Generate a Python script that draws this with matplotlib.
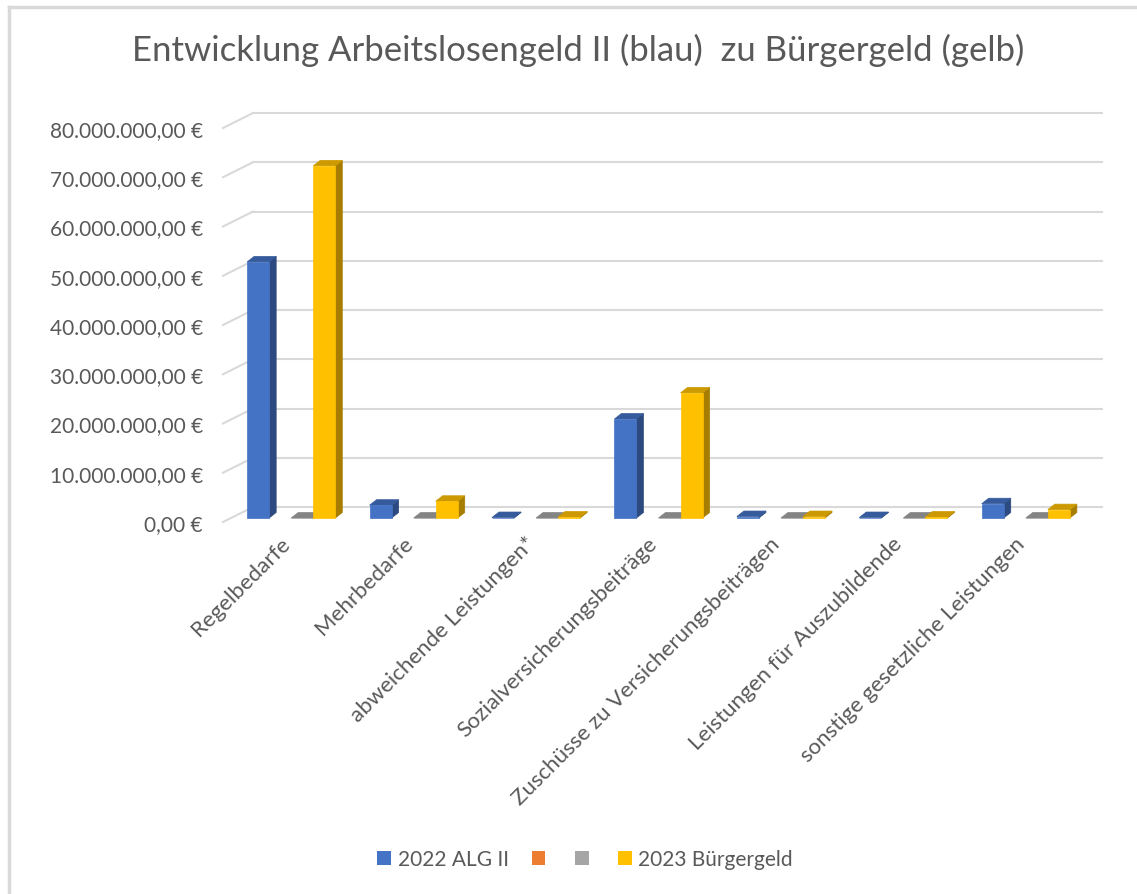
import matplotlib
matplotlib.use("Agg")
import matplotlib.pyplot as plt
from matplotlib.patches import Polygon, Patch
from matplotlib.lines import Line2D
from matplotlib.transforms import ScaledTranslation
import numpy as np

plt.rcParams['font.family'] = ['Lato', 'DejaVu Sans']

categories = ["Regelbedarfe", "Mehrbedarfe", "abweichende Leistungen*",
              "Sozialversicherungsbeiträge", "Zuschüsse zu Versicherungsbeiträgen",
              "Leistungen für Auszubildende", "sonstige gesetzliche Leistungen"]
alg2_2022 = [52.0e6, 2.6e6, 0.1e6, 20.1e6, 0.3e6, 0.1e6, 2.9e6]
series_orange = [None] * 7
series_gray = [0, 0, 0, 0, 0, 0, 0]
buergergeld_2023 = [71.5e6, 3.4e6, 0.2e6, 25.4e6, 0.3e6, 0.2e6, 1.7e6]
y_ticks = [0, 10e6, 20e6, 30e6, 40e6, 50e6, 60e6, 70e6, 80e6]
legend_labels = ["2022 ALG II", "", "", "2023 Bürgergeld"]

text_col = "#595959"
grid_col = "#D9D9D9"
colors = ["#4472C4", "#ED7D31", "#A5A5A5", "#FFC000"]


def shade(c, f):
    c = np.array(matplotlib.colors.to_rgb(c))
    return tuple(c * f)


W, H = 1137, 895
fig = plt.figure(figsize=(W / 100, H / 100), dpi=100)
ax = fig.add_axes([223 / W, (H - 523) / H, 857 / W, 394 / H])
ax.set_xlim(-0.5, 6.5)
ax.set_ylim(0, 80e6)
for s in ax.spines.values():
    s.set_visible(False)

# pixel -> data conversion
p0 = ax.transData.transform((0, 0))
p1 = ax.transData.transform((1, 1e7))
ux, uy = p1[0] - p0[0], p1[1] - p0[1]


def px(dx, dy):
    return dx / ux, dy * 1e7 / uy


# back wall gridlines
wx, wy = px(30, 15)
x_end = 6.5 + wx - px(8, 0)[0]
for v in y_ticks:
    ax.plot([-0.5, -0.5 + wx], [v, v + wy], color=grid_col, lw=1.5, clip_on=False, zorder=1)
    ax.plot([-0.5 + wx, x_end], [v + wy, v + wy], color=grid_col, lw=1.5, clip_on=False, zorder=1)

# 3d-ish bars
fx, fy = px(7, 4)
dx, dy = px(7, 5.5)
bw = 0.18
series = [alg2_2022, series_orange, series_gray, buergergeld_2023]
x = np.arange(len(categories))
z = 2
for i in range(len(categories)):
    for k, vals in enumerate(series):
        v = vals[i]
        if v is None:
            continue
        x0 = x[i] + (k - 2) * bw + fx
        x1 = x0 + bw
        b = fy
        t = fy + v
        c = colors[k]
        front = Polygon([(x0, b), (x1, b), (x1, t), (x0, t)], closed=True,
                        facecolor=c, edgecolor=c, lw=0.5, clip_on=False, zorder=z)
        side = Polygon([(x1, b), (x1 + dx, b + dy), (x1 + dx, t + dy), (x1, t)], closed=True,
                       facecolor=shade(c, 0.65), edgecolor=shade(c, 0.65), lw=0.5, clip_on=False, zorder=z)
        top = Polygon([(x0, t), (x1, t), (x1 + dx, t + dy), (x0 + dx, t + dy)], closed=True,
                      facecolor=shade(c, 0.8), edgecolor=shade(c, 0.8), lw=0.5, clip_on=False, zorder=z)
        ax.add_patch(side)
        ax.add_patch(top)
        ax.add_patch(front)
        z += 1


def euro(v):
    s = f"{v:,.2f}".replace(",", "X").replace(".", ",").replace("X", ".")
    return s + " €"


ax.set_yticks(y_ticks, [euro(v) for v in y_ticks])
ax.tick_params(axis="y", length=0, pad=14.4, labelsize=15, labelcolor=text_col)
ax.set_xticks(x, categories, rotation=45, ha="right", va="center", rotation_mode="anchor")
ax.tick_params(axis="x", length=0, pad=13, labelsize=16, labelcolor=text_col)
for lab in ax.get_xticklabels():
    lab.set_transform(lab.get_transform() + ScaledTranslation(0.03, 0, fig.dpi_scale_trans))

fig.text(578 / W, 1 - 50 / H, "Entwicklung Arbeitslosengeld II (blau)  zu Bürgergeld (gelb)",
         ha="center", va="center", fontsize=25, color=text_col)

handles = [Patch(facecolor=c, edgecolor="none") for c in colors]
fig.legend(handles, legend_labels, loc="center", bbox_to_anchor=(585 / W, 1 - 860 / H), ncol=4,
           frameon=False, fontsize=15, labelcolor=text_col, handlelength=0.67, handleheight=0.67,
           handletextpad=0.3, columnspacing=1.1)

# chart area border (left and top)
fig.add_artist(Line2D([9 / W, 9 / W], [0, 1 - 8 / H], color=grid_col, lw=2.5))
fig.add_artist(Line2D([9 / W, 1], [1 - 8 / H, 1 - 8 / H], color=grid_col, lw=2.5))

fig.savefig("out.png", dpi=100)
